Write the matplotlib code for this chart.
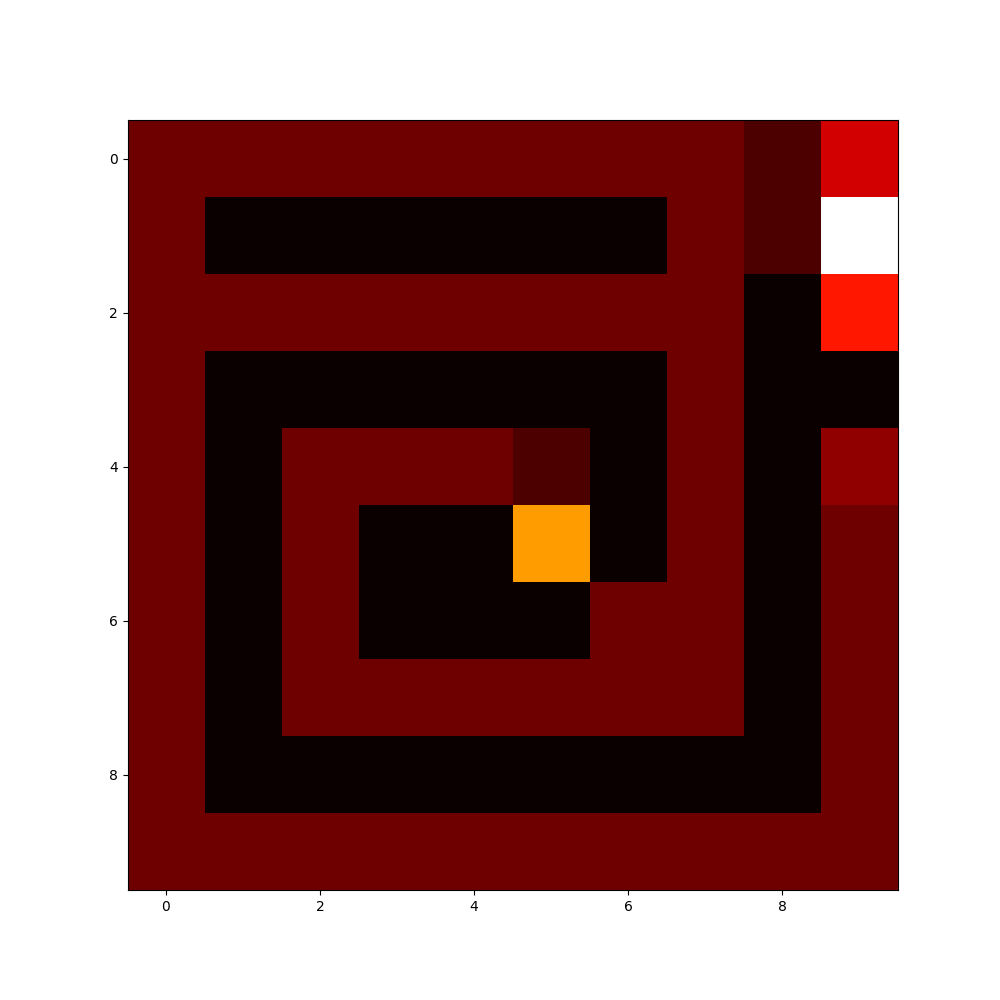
import numpy as np
import matplotlib
matplotlib.use('Agg')
import matplotlib.pyplot as plt

# grid values (0 = wall, 3 = path)
row0 = [3, 3, 3, 3, 3, 3, 3, 3, 2, 6]
row1 = [3, 0, 0, 0, 0, 0, 0, 3, 2, 20]
row2 = [3, 3, 3, 3, 3, 3, 3, 3, 0, 8]
row3 = [3, 0, 0, 0, 0, 0, 0, 3, 0, 0]
row4 = [3, 0, 3, 3, 3, 2, 0, 3, 0, 4]
row5 = [3, 0, 3, 0, 0, 12, 0, 3, 0, 3]
row6 = [3, 0, 3, 0, 0, 0, 3, 3, 0, 3]
row7 = [3, 0, 3, 3, 3, 3, 3, 3, 0, 3]
row8 = [3, 0, 0, 0, 0, 0, 0, 0, 0, 3]
row9 = [3, 3, 3, 3, 3, 3, 3, 3, 3, 3]

grid = np.array([row0, row1, row2, row3, row4, row5, row6, row7, row8, row9])

fig = plt.figure(figsize=(10, 10), dpi=100)
plt.imshow(grid, cmap='hot')
fig.savefig('out.png')
